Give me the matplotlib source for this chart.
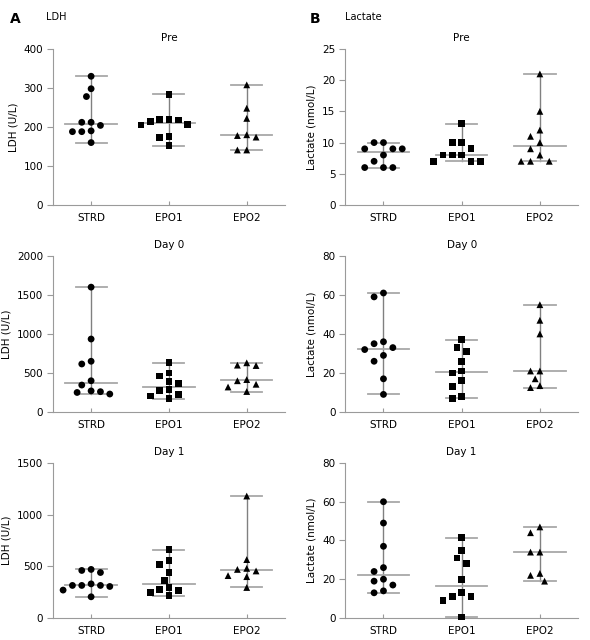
import numpy as np
import matplotlib
matplotlib.use('Agg')
import matplotlib.pyplot as plt

# groups on the x axis
groups = ['STRD', 'EPO1', 'EPO2']
markers = ['o', 's', '^']

# LDH (U/L) values
ldh_pre_strd = [330, 298, 278, 212, 212, 204, 190, 188, 188, 160]
ldh_pre_epo1 = [284, 220, 220, 218, 214, 206, 205, 175, 172, 152]
ldh_pre_epo2 = [308, 248, 222, 180, 178, 174, 141, 141]

ldh_d0_strd = [1600, 935, 650, 615, 400, 345, 270, 260, 250, 230]
ldh_d0_epo1 = [634, 500, 462, 394, 364, 287, 274, 223, 205, 171]
ldh_d0_epo2 = [630, 600, 595, 415, 400, 355, 320, 262]

ldh_d1_strd = [470, 460, 440, 330, 315, 315, 315, 305, 270, 205]
ldh_d1_epo1 = [660, 555, 520, 440, 365, 295, 275, 265, 250, 215]
ldh_d1_epo2 = [1180, 565, 480, 470, 455, 410, 400, 295]

# Lactate (nmol/L) values
lac_pre_strd = [10, 10, 9, 9, 9, 8, 7, 6, 6, 6]
lac_pre_epo1 = [13, 10, 10, 9, 8, 8, 8, 7, 7, 7]
lac_pre_epo2 = [21, 15, 12, 11, 10, 9, 8, 7, 7, 7]

lac_d0_strd = [61, 59, 36, 35, 33, 32, 29, 26, 17, 9]
lac_d0_epo1 = [37, 33, 31, 26, 21, 20, 16, 13, 8, 7]
lac_d0_epo2 = [55, 47, 40, 21, 21, 17, 13.5, 12.5]

lac_d1_strd = [60, 49, 37, 26, 24, 20, 19, 17, 14, 13]
lac_d1_epo1 = [41.5, 35, 31, 28, 20, 13, 11, 11, 9, 0.5]
lac_d1_epo2 = [47, 44, 34, 34, 23, 22, 19]

titles = ['Pre', 'Day 0', 'Day 1']
ldh_ylims = [400, 2000, 1500]
ldh_ysteps = [100, 500, 500]
lac_ylims = [25, 80, 80]
lac_ysteps = [5, 20, 20]

ldh_data = [[ldh_pre_strd, ldh_pre_epo1, ldh_pre_epo2],
            [ldh_d0_strd, ldh_d0_epo1, ldh_d0_epo2],
            [ldh_d1_strd, ldh_d1_epo1, ldh_d1_epo2]]
lac_data = [[lac_pre_strd, lac_pre_epo1, lac_pre_epo2],
            [lac_d0_strd, lac_d0_epo1, lac_d0_epo2],
            [lac_d1_strd, lac_d1_epo1, lac_d1_epo2]]

plt.rcParams['font.family'] = ['DejaVu Sans']
spine_col = '#9a9a9a'


# simple beeswarm: place points top-down, nearest free half-step slot
def swarm_offsets(values, ymax, axis_px=156, x_px_per_unit=78.0,
                  diam_px=8.0, step=0.12):
    vals = np.array(values, dtype=float)
    order = np.argsort(-vals)
    ypx = vals * axis_px / ymax
    slots = [0.0]
    for k in range(1, 12):
        slots += [-0.5 * k, 0.5 * k]
    offs = np.zeros(len(vals))
    placed = []
    for idx in order:
        for s in slots:
            xpx = s * step * x_px_per_unit
            ok = True
            for (px, py) in placed:
                if np.hypot(xpx - px, ypx[idx] - py) < diam_px:
                    ok = False
                    break
            if ok:
                offs[idx] = s * step
                placed.append((xpx, ypx[idx]))
                break
    return offs


def dot_panel(ax, data, ymax, ystep, title, ylabel):
    for g, vals in enumerate(data):
        vals = np.array(vals, dtype=float)
        med = np.median(vals)
        lo, hi = vals.min(), vals.max()
        ax.plot([g, g], [lo, hi], color='#808080', lw=1.0, zorder=1)
        ax.plot([g - 0.33, g + 0.33], [med, med], color='#a8a8a8', lw=1.3, zorder=1)
        ax.plot([g - 0.2, g + 0.2], [hi, hi], color='#a8a8a8', lw=1.3, zorder=1)
        ax.plot([g - 0.2, g + 0.2], [lo, lo], color='#a8a8a8', lw=1.3, zorder=1)
        xs = g + swarm_offsets(vals, ymax)
        ax.scatter(xs, vals, marker=markers[g], s=24, color='black',
                   edgecolors='none', zorder=3, clip_on=False)
    ax.set_xlim(-0.49, 2.49)
    ax.set_ylim(0, ymax)
    ax.set_yticks(np.arange(0, ymax + ystep / 2, ystep))
    ax.set_xticks(range(len(groups)))
    ax.set_xticklabels(groups)
    ax.spines['top'].set_visible(False)
    ax.spines['right'].set_visible(False)
    ax.spines['left'].set_color(spine_col)
    ax.spines['bottom'].set_color(spine_col)
    ax.tick_params(axis='y', direction='out', length=4, color=spine_col,
                   labelsize=7.5, pad=3)
    ax.tick_params(axis='x', direction='in', length=3, color=spine_col,
                   labelsize=7.5, pad=6)
    ax.set_title(title, fontsize=7.5, pad=6)
    ax.set_ylabel(ylabel, fontsize=7.5, labelpad=4)


fig = plt.figure(figsize=(5.9, 6.4), dpi=100)

row_bottoms = [0.6797, 0.3563, 0.0344]
row_heights = [0.2438, 0.2438, 0.2422]

for r in range(3):
    axl = fig.add_axes([0.0898, row_bottoms[r], 0.393, row_heights[r]])
    dot_panel(axl, ldh_data[r], ldh_ylims[r], ldh_ysteps[r], titles[r], 'LDH (U/L)')
    axr = fig.add_axes([0.585, row_bottoms[r], 0.395, row_heights[r]])
    dot_panel(axr, lac_data[r], lac_ylims[r], lac_ysteps[r], titles[r], 'Lactate (nmol/L)')

# panel letters and headings
fig.text(0.017, 0.971, 'A', fontsize=10, fontweight='bold', va='center')
fig.text(0.078, 0.973, 'LDH', fontsize=7, va='center')
fig.text(0.525, 0.971, 'B', fontsize=10, fontweight='bold', va='center')
fig.text(0.585, 0.973, 'Lactate', fontsize=7, va='center')

fig.savefig('out.png', dpi=100)
